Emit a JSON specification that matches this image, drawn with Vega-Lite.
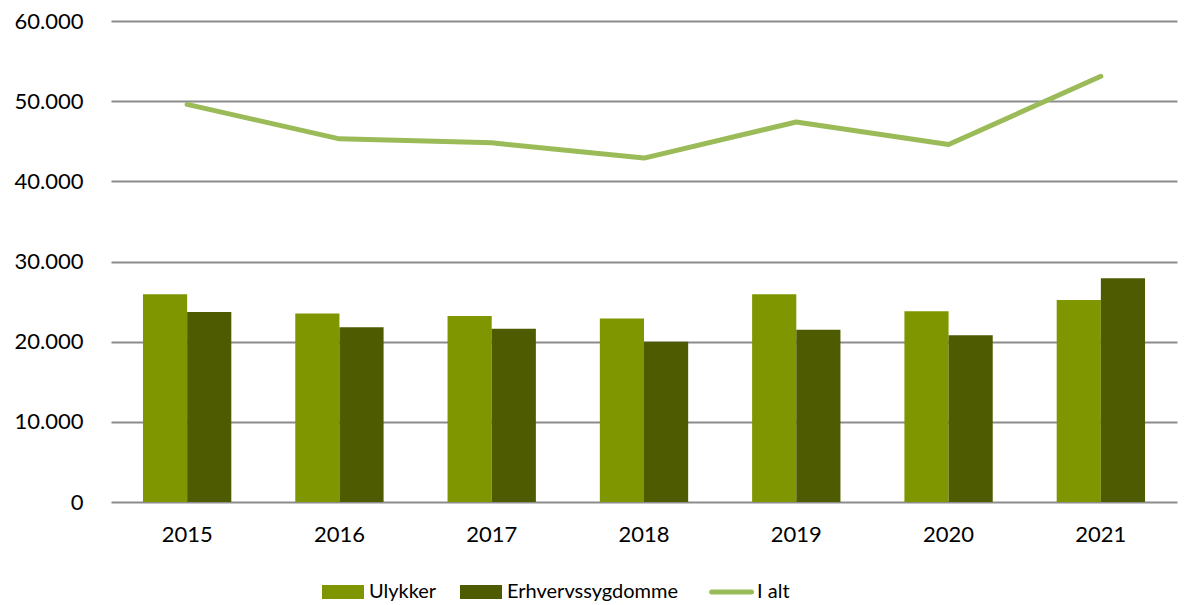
{
  "$schema": "https://vega.github.io/schema/vega-lite/v6.json",
  "width": 1066,
  "height": 481,
  "padding": {"left": 14, "top": 10, "right": 9, "bottom": 5},
  "autosize": {"type": "pad"},
  "background": "white",
  "config": {
    "view": {"stroke": null},
    "font": "Lato",
    "axis": {"labelFont": "Lato", "labelFontSize": 22, "labelColor": "#000000", "domain": false, "ticks": false},
    "legend": {"labelFont": "Lato", "labelFontSize": 20, "labelColor": "#000000"}
  },
  "data": {
    "values": [
      {"year": "2015", "series": "Ulykker", "value": 25900},
      {"year": "2015", "series": "Erhvervssygdomme", "value": 23700},
      {"year": "2016", "series": "Ulykker", "value": 23500},
      {"year": "2016", "series": "Erhvervssygdomme", "value": 21800},
      {"year": "2017", "series": "Ulykker", "value": 23200},
      {"year": "2017", "series": "Erhvervssygdomme", "value": 21600},
      {"year": "2018", "series": "Ulykker", "value": 22900},
      {"year": "2018", "series": "Erhvervssygdomme", "value": 20000},
      {"year": "2019", "series": "Ulykker", "value": 25900},
      {"year": "2019", "series": "Erhvervssygdomme", "value": 21500},
      {"year": "2020", "series": "Ulykker", "value": 23800},
      {"year": "2020", "series": "Erhvervssygdomme", "value": 20800},
      {"year": "2021", "series": "Ulykker", "value": 25200},
      {"year": "2021", "series": "Erhvervssygdomme", "value": 27900},
      {"year": "2015", "series": "I alt", "value": 49600},
      {"year": "2016", "series": "I alt", "value": 45300},
      {"year": "2017", "series": "I alt", "value": 44800},
      {"year": "2018", "series": "I alt", "value": 42900},
      {"year": "2019", "series": "I alt", "value": 47400},
      {"year": "2020", "series": "I alt", "value": 44600},
      {"year": "2021", "series": "I alt", "value": 53100}
    ]
  },
  "encoding": {
    "x": {
      "field": "year", "type": "nominal", "title": null,
      "scale": {"paddingInner": 0.42, "paddingOuter": 0.21},
      "axis": {"labelAngle": 0, "labelPadding": 22, "grid": false}
    },
    "y": {
      "field": "value", "type": "quantitative", "title": null,
      "scale": {"domain": [0, 60000], "nice": false},
      "axis": {
        "values": [0, 10000, 20000, 30000, 40000, 50000, 60000],
        "labelExpr": "replace(format(datum.value, ','), ',', '.')",
        "labelPadding": 28,
        "grid": true, "gridColor": "#8c8c8c", "gridWidth": 2
      }
    },
    "color": {
      "field": "series", "type": "nominal",
      "scale": {
        "domain": ["Ulykker", "Erhvervssygdomme", "I alt"],
        "range": ["#7F9600", "#4F5B00", "#9BBB59"]
      },
      "legend": {
        "title": null, "orient": "none", "direction": "horizontal",
        "legendX": 222, "legendY": 561,
        "columnPadding": 23, "labelOffset": 16, "labelLimit": 0,
        "symbolSize": 1764,
        "encode": {
          "symbols": {
            "update": {
              "shape": {"signal": "datum.value === 'I alt' ? 'M-1.4,0H0.5' : 'M-1,-0.33H1V0.33H-1Z'"},
              "strokeWidth": {"signal": "datum.value === 'I alt' ? 5 : 0"},
              "stroke": {"signal": "datum.value === 'I alt' ? '#9BBB59' : 'transparent'"},
              "strokeCap": {"value": "round"},
              "fill": {"signal": "datum.value === 'I alt' ? 'transparent' : scale('color', datum.value)"},
              "fillOpacity": {"value": 1},
              "opacity": {"value": 1}
            }
          },
          "labels": {
            "update": {
              "dx": {"signal": "datum.value === 'I alt' ? -10 : 0"}
            }
          }
        }
      }
    }
  },
  "layer": [
    {
      "transform": [{"filter": "datum.series !== 'I alt'"}],
      "mark": {"type": "bar"},
      "encoding": {
        "xOffset": {"field": "series", "type": "nominal", "sort": ["Ulykker", "Erhvervssygdomme"], "scale": {"paddingInner": 0}}
      }
    },
    {
      "transform": [{"filter": "datum.series === 'I alt'"}],
      "mark": {"type": "line", "strokeWidth": 5, "strokeCap": "round", "strokeJoin": "round"}
    }
  ]
}
